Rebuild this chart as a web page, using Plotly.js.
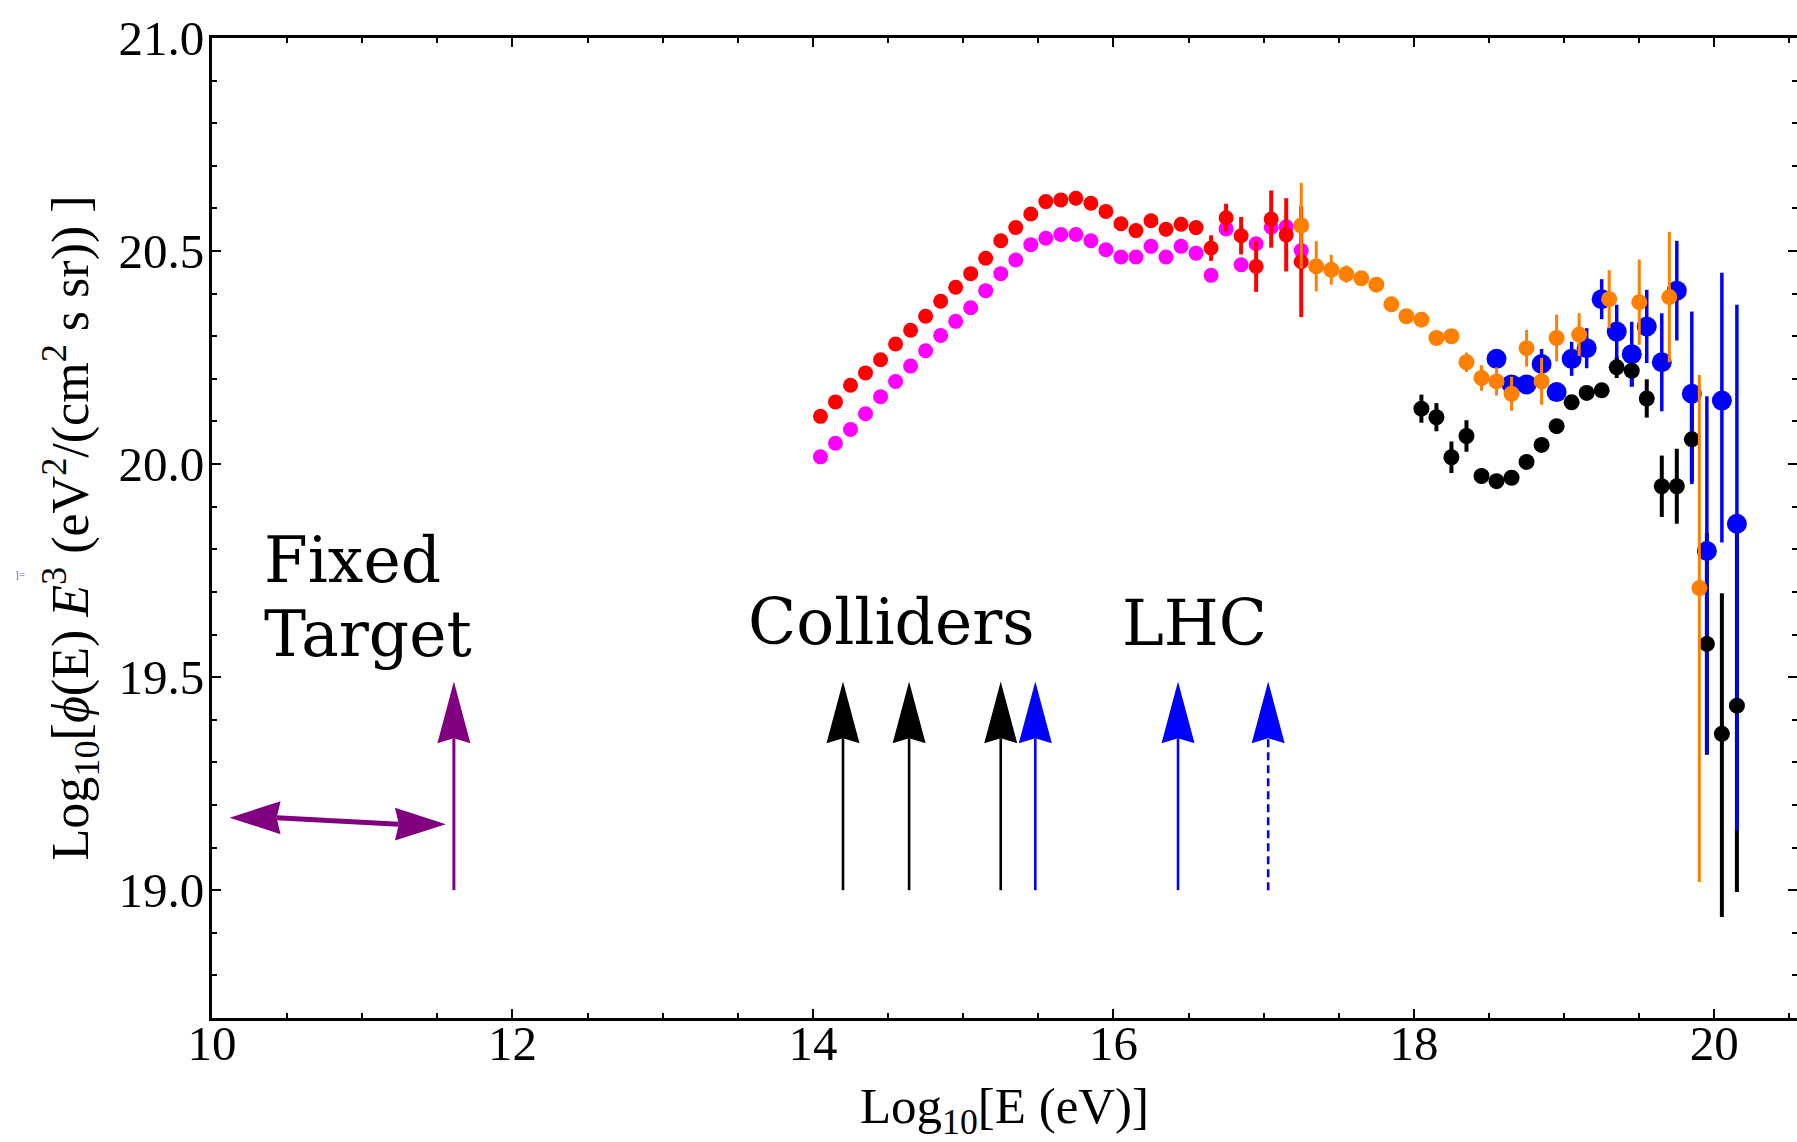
<!DOCTYPE html>
<html><head><meta charset="utf-8">
<script src="https://cdn.plot.ly/plotly-3.0.1.min.js"></script>
<style>html,body{margin:0;padding:0;background:#fff;}#chart{width:1797px;height:1142px;}</style>
</head><body><div id="chart"></div>
<script>
// ---- Data ----
const xLow = [14.05,14.15,14.25,14.35,14.45,14.55,14.65,14.75,14.85,14.95,15.05,15.15,15.25,15.35,15.45,15.55,15.65,15.75,15.85,15.95,16.05,16.15,16.25,16.35,16.45,16.55,16.65,16.75,16.85,16.95,17.05,17.15,17.25];
const yRed = [20.112,20.146,20.185,20.214,20.245,20.282,20.314,20.347,20.382,20.415,20.447,20.483,20.524,20.555,20.587,20.616,20.620,20.624,20.612,20.593,20.564,20.548,20.571,20.551,20.563,20.555,20.507,20.578,20.536,20.464,20.575,20.538,20.475];
const errRed = [0,0,0,0,0,0,0,0,0,0,0,0,0,0,0,0,0,0,0,0,0,0,0,0.01,0.012,0.015,0.03,0.033,0.044,0.06,0.067,0.086,0.13];
const yMagenta = [20.017,20.049,20.081,20.118,20.158,20.194,20.230,20.266,20.302,20.335,20.367,20.407,20.447,20.479,20.515,20.530,20.539,20.539,20.524,20.503,20.486,20.486,20.511,20.486,20.511,20.495,20.443,20.552,20.468,20.517,20.556,20.557,20.501];

const xOrange = [17.25,17.35,17.45,17.55,17.65,17.75,17.85,17.95,18.05,18.15,18.25,18.35,18.45,18.55,18.65,18.75,18.85,18.95,19.1,19.3,19.5,19.7,19.9];
const yOrange = [20.560,20.464,20.456,20.446,20.436,20.421,20.375,20.347,20.339,20.296,20.300,20.239,20.202,20.194,20.165,20.272,20.194,20.296,20.304,20.387,20.380,20.392,19.709];
const errOrangePlus  = [0.10,0.059,0.035,0.02,0.01,0,0,0,0,0,0,0.023,0.03,0.033,0.04,0.043,0.055,0.055,0.05,0.068,0.10,0.153,0.50];
const errOrangeMinus = [0.10,0.059,0.035,0.02,0.01,0,0,0,0,0,0,0.023,0.03,0.033,0.04,0.043,0.055,0.055,0.05,0.068,0.10,0.153,0.69];

const xBlue = [18.55,18.65,18.75,18.85,18.95,19.05,19.15,19.25,19.35,19.45,19.55,19.65,19.75,19.85,19.95,20.05,20.15];
const yBlue = [20.247,20.187,20.187,20.235,20.169,20.247,20.272,20.387,20.311,20.258,20.323,20.239,20.407,20.165,19.796,20.149,19.860];
const errBluePlus  = [0.015,0.02,0.02,0.035,0.02,0.04,0.047,0.047,0.063,0.076,0.086,0.115,0.117,0.193,0.363,0.30,0.514];
const errBlueMinus = [0.015,0.02,0.02,0.035,0.02,0.04,0.047,0.047,0.063,0.076,0.086,0.115,0.117,0.212,0.476,0.333,0.72];

const xBlack = [18.05,18.15,18.25,18.35,18.45,18.55,18.65,18.75,18.85,18.95,19.05,19.15,19.25,19.35,19.45,19.55,19.65,19.75,19.85,19.95,20.05,20.15];
const yBlack = [20.130,20.110,20.016,20.066,19.972,19.960,19.968,20.005,20.045,20.089,20.145,20.167,20.173,20.227,20.219,20.154,19.948,19.948,20.058,19.578,19.367,19.433];
const errBlackPlus  = [0.033,0.033,0.037,0.037,0,0,0,0,0,0,0,0,0,0.025,0.037,0.045,0.072,0.088,0.1,0.26,0.33,0.44];
const errBlackMinus = [0.033,0.033,0.037,0.037,0,0,0,0,0,0,0,0,0,0.025,0.037,0.045,0.072,0.088,0.1,0.26,0.43,0.437];

// Accelerator energies (arrows)
const colliderE = [14.2, 14.64, 15.25];
const lhcE = [15.48, 16.43];
const lhcFutureE = [17.03];
const fixedTargetE = [11.61];
const arrowY = [19.0, 19.49];
const fixedRangeX = [10.117, 11.557];
const fixedRangeY = [19.170, 19.155];

// Labels
const xTickVals = [10,12,14,16,18,20];
const yTickVals = [19.0,19.5,20.0,20.5,21.0];

// ---- Styles ----
const RED='#ff0000', MAG='#ff00ff', ORA='#ff8000', BLU='#0000ff', BLK='#000000', PUR='#800080';

function pts(x, y, color, size, plus, minus, opts) {
  opts = opts || {};
  const t = {
    type:'scatter', mode:'markers', x:x, y:y, showlegend:false, hoverinfo:'x+y',
    marker:{color:color, size:size, line:{width:0}, opacity: opts.hideMarkers ? 0 : 1}
  };
  if (plus) {
    t.error_y = {type:'data', symmetric:false, array:plus, arrayminus:minus||plus,
                 color:color, thickness:opts.th||3.5, width:0, visible:true};
  }
  return t;
}

const data = [
  pts(xLow, yMagenta, MAG, 15),
  pts(xLow, yRed, RED, 15, errRed, errRed, {th:4}),
  pts(xBlack, yBlack, BLK, 16, errBlackPlus, errBlackMinus, {hideMarkers:true, th:4}),
  pts(xBlue, yBlue, BLU, 20, errBluePlus, errBlueMinus, {th:3.5}),
  pts(xBlack, yBlack, BLK, 16),
  pts(xOrange, yOrange, ORA, 16, errOrangePlus, errOrangeMinus, {th:3})
];

// ---- Arrow shapes (sizes are styling, positions come from arrays) ----
const pxX = 1/150.2, pxY = 1/427;          // data units per pixel
const headLen = 62*pxY, headHalf = 16.5*pxX, notch = 5*pxY;
const shapes = [];
function upArrow(x, color, width, dash) {
  const yb = arrowY[1] - headLen;
  shapes.push({type:'line', xref:'x', yref:'y', x0:x, x1:x, y0:arrowY[0], y1:yb + notch,
               line:{color:color, width:width, dash:dash||'solid'}});
  shapes.push({type:'path', xref:'x', yref:'y', fillcolor:color, line:{width:0},
    path:`M${x-headHalf},${yb} L${x},${arrowY[1]} L${x+headHalf},${yb} L${x},${yb+notch} Z`});
}
colliderE.forEach(e => upArrow(e, BLK, 2.6));
lhcE.forEach(e => upArrow(e, BLU, 2.6));
lhcFutureE.forEach(e => upArrow(e, BLU, 2.6, '8px,5px'));
fixedTargetE.forEach(e => upArrow(e, PUR, 3));

// double arrow (fixed target range)
(function(){
  const hl = 51*pxX, hw = 16.5*pxY, nt = 4*pxX;
  const [xa, xb] = fixedRangeX, [ya, yb] = fixedRangeY;
  shapes.push({type:'line', xref:'x', yref:'y', x0:xa+hl-nt, x1:xb-hl+nt, y0:ya, y1:yb,
               line:{color:PUR, width:5}});
  shapes.push({type:'path', xref:'x', yref:'y', fillcolor:PUR, line:{width:0},
    path:`M${xa+hl},${ya-hw} L${xa},${ya} L${xa+hl},${ya+hw} L${xa+hl-nt},${ya} Z`});
  shapes.push({type:'path', xref:'x', yref:'y', fillcolor:PUR, line:{width:0},
    path:`M${xb-hl},${yb-hw} L${xb},${yb} L${xb-hl},${yb+hw} L${xb-hl+nt},${yb} Z`});
})();

const labelFont = {family:'DejaVu Serif', size:63, color:'#000'};
const annotations = [
  {text:'Fixed', x:10.333, y:19.773, xref:'x', yref:'y', xanchor:'left', yanchor:'middle', showarrow:false, font:labelFont},
  {text:'Target', x:10.333, y:19.600, xref:'x', yref:'y', xanchor:'left', yanchor:'middle', showarrow:false, font:labelFont},
  {text:'Colliders', x:14.523, y:19.629, xref:'x', yref:'y', xanchor:'center', yanchor:'middle', showarrow:false, font:labelFont},
  {text:'LHC', x:16.541, y:19.625, xref:'x', yref:'y', xanchor:'center', yanchor:'middle', showarrow:false, font:labelFont},
  {text:']=', x:-0.121, y:19.742, xref:'paper', yref:'y', xanchor:'center', yanchor:'middle', showarrow:false,
   font:{family:'Liberation Serif', size:11, color:'#6464c0'}}
];

const SERIF = '"Liberation Serif", "Times New Roman", Times, serif';
const layout = {
  width:1797, height:1142,
  margin:{l:212, r:0, t:38, b:124},
  paper_bgcolor:'#fff', plot_bgcolor:'#fff',
  showlegend:false,
  xaxis:{
    range:[10, 20.55], tickmode:'array', tickvals:xTickVals, ticktext:xTickVals.map(String),
    ticks:'inside', ticklen:9, tickwidth:2, tickcolor:'#000', ticklabelstandoff:-20,
    minor:{dtick:0.5, tick0:10, ticks:'inside', ticklen:5, tickwidth:2, tickcolor:'#000', showgrid:false},
    showline:true, linecolor:'#000', linewidth:3, mirror:'allticks',
    showgrid:false, zeroline:false, tickfont:{family:SERIF, size:49, color:'#000'},
    title:{text:'Log<sub>10</sub>[E (eV)]', font:{family:SERIF, size:51, color:'#000'}, standoff:18}
  },
  yaxis:{
    range:[18.7, 21.0], tickmode:'array', tickvals:yTickVals, ticktext:yTickVals.map(v=>v.toFixed(1)),
    ticks:'inside', ticklen:9, tickwidth:2, tickcolor:'#000', ticklabelstandoff:-5,
    minor:{dtick:0.1, tick0:19, ticks:'inside', ticklen:5, tickwidth:2, tickcolor:'#000', showgrid:false},
    showline:true, linecolor:'#000', linewidth:3, mirror:'allticks',
    showgrid:false, zeroline:false, tickfont:{family:SERIF, size:49, color:'#000'},
    title:{text:'Log<sub>10</sub>[<i>ϕ</i>(E) <i>E</i><sup>3</sup> (eV<sup>2</sup>/(cm<sup>2</sup> s sr)) ]',
           font:{family:SERIF, size:52, color:'#000'}, standoff:14}
  },
  shapes:shapes,
  annotations:annotations
};

Plotly.newPlot('chart', data, layout, {staticPlot:true, displayModeBar:false});
</script>
</body></html>
